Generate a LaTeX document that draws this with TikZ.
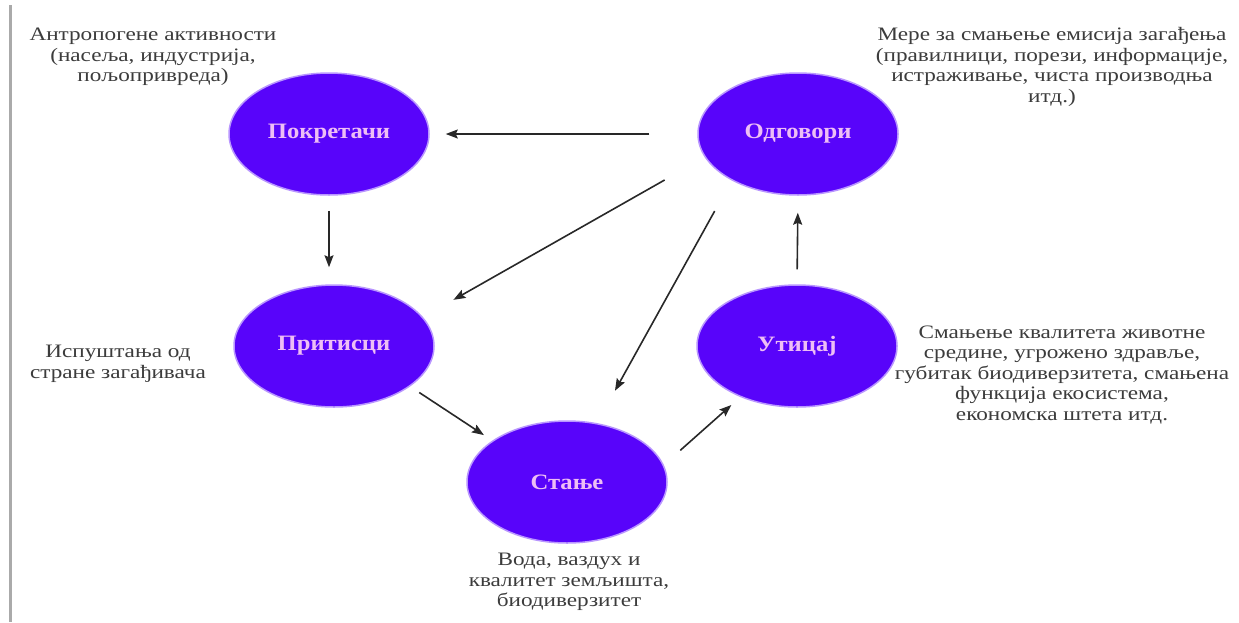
\documentclass[tikz,border=0pt]{standalone}
\usepackage{fontspec}
\setmainfont{Liberation Serif}
\newfontfamily\notefont[FakeStretch=1.22]{Liberation Serif}
\newfontfamily\stagefont[FakeStretch=1.12]{Liberation Serif}
\usepackage{xcolor}
\usetikzlibrary{shapes.geometric,arrows.meta,positioning}
\definecolor{stagefill}{RGB}{88,4,250}
\definecolor{stageglow}{RGB}{185,150,255}
\definecolor{stagetext}{RGB}{238,190,245}
\definecolor{notegray}{RGB}{60,60,60}
\definecolor{arrgray}{RGB}{40,40,40}
\definecolor{edgegray}{RGB}{170,170,170}

\begin{document}
\begin{tikzpicture}[
  x=1pt,y=-1pt,
  stage/.style={ellipse,draw=stageglow,line width=1.5pt,fill=stagefill,minimum width=200pt,minimum height=122pt,inner sep=0pt,text=stagetext,font=\stagefont\bfseries\fontsize{22}{26}\selectfont},
  note/.style={align=center,text=notegray,inner sep=0pt,font=\notefont\fontsize{19}{20.5}\selectfont},
  arr/.style={-{Stealth[length=12pt,width=9pt,inset=2pt]},draw=arrgray,line width=1.6pt}
]
\useasboundingbox[fill=white] (0,0) rectangle (1239,622);
\draw[edgegray,line width=3pt] (10,5) -- (10,622);
\node[stage] (pok) at (329,134) {Покретачи};
\node[stage] (odg) at (798,134) {Одговори};
\node[stage] (pri) at (334,346) {Притисци};
\node[stage] (uti) at (797,346) {Утицај};
\node[stage] (sta) at (567,482) {Стање};
\node[note] (n1) at (153,57) {Антропогене активности\\(насеља, индустрија,\\пољопривреда)};
\node[note] (n2) at (1052,67) {Мере за смањење емисија загађења\\(правилници, порези, информације,\\истраживање, чиста производња\\итд.)};
\node[note] (n3) at (118,364) {Испуштања од\\стране загађивача};
\node[note] (n4) at (1062,375) {Смањење квалитета животне\\средине, угрожено здравље,\\губитак биодиверзитета, смањена\\функција екосистема,\\економска штета итд.};
\node[note] (n5) at (569,582) {Вода, ваздух и\\квалитет земљишта,\\биодиверзитет};
\draw[arr,shorten <=48pt,shorten >=16pt] (odg.west) -- (pok.east);
\draw[arr,shorten <=15pt,shorten >=17pt] (pok.south) -- (pok.south |- pri.north);
\draw[arr,shorten <=46pt,shorten >=35pt] (odg.194) -- (pri.18);
\draw[arr,shorten <=35pt,shorten >=37pt] (odg.215) -- (sta.63);
\draw[arr,shorten <=11pt,shorten >=10pt] (pri.332) -- (sta.151);
\draw[arr,shorten <=22pt,shorten >=12pt] (sta.10) -- (uti.222);
\draw[arr,shorten <=15pt,shorten >=17pt] (uti.north) -- (odg.south);
\end{tikzpicture}
\end{document}
